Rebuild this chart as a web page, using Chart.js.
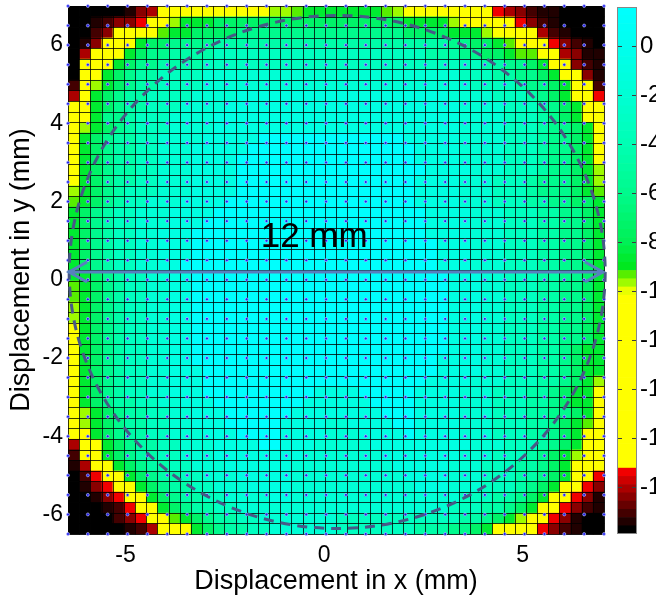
<!DOCTYPE html>
<html>
<head>
<meta charset="utf-8">
<title>Displacement map</title>
<script src="https://cdn.jsdelivr.net/npm/chart.js@4.4.0/dist/chart.umd.min.js"></script>
<style>
  html, body { margin: 0; padding: 0; background: #fff; overflow: hidden; }
  #wrap { position: relative; width: 656px; height: 595px; }
  #wrap canvas { position: absolute; left: 0; top: 0; }
</style>
</head>
<body>
<div id="wrap">
  <canvas id="mapChart" width="656" height="595"></canvas>
  <canvas id="colorbarChart" width="656" height="595"></canvas>
</div>
<script>
/************************************************************************************************
 *                                        CHART DATA
 * **********************************************************************************************/
const xLimits = [-6.45, 7.05];
const yLimits = [-6.5, 7.0];
const xTickValues = [-5, 0, 5];
const yTickValues = [-6, -4, -2, 0, 2, 4, 6];
const colorLimits = [-19.9, 1.6];
const colorTickValues = [0, -2, -4, -6, -8, -10, -12, -14, -16, -18];

// measurement points, 0.5 mm pitch
const pointX = [-6.45, -5.95, -5.45, -4.95, -4.45, -3.95, -3.45, -2.95, -2.45, -1.95, -1.45, -0.95, -0.45, 0.05,
  0.55, 1.05, 1.55, 2.05, 2.55, 3.05, 3.55, 4.05, 4.55, 5.05, 5.55, 6.05, 6.55, 7.05];
const pointY = [-6.5, -6.0, -5.5, -5.0, -4.5, -4.0, -3.5, -3.0, -2.5, -2.0, -1.5, -1.0, -0.5, 0.0,
  0.5, 1.0, 1.5, 2.0, 2.5, 3.0, 3.5, 4.0, 4.5, 5.0, 5.5, 6.0, 6.5, 7.0];

// value of each level code used in the map rows
const levelValue = {
  A: 1.4, B: -0.8, C: -2.0, D: -3.2, E: -4.6, F: -6.0, G: -7.3, H: -8.6, I: -9.3, J: -9.7,
  Y: -13.0, R: -17.4, S: -17.9, T: -18.5, U: -19.0, V: -19.4, K: -19.85
};

// interpolated map, 48 columns x 50 rows, top row first
const mapRows = [
  "KKKKKVTSYYYYYYYYYYJJIHHH" + "HHHHIJYYYYYYYYRSTUVVKKKK",
  "KKVUTTRYYJHHHGGGGGGGGGGG" + "GGGGGGHHHHJYYYYYRTUVKKKK",
  "KKUTYYYYIHHGGGGFFFFFFFFF" + "FFFFFFGGGGHHHJYYYYSUVKKK",
  "KVTYYYHGGFFFFEEEEEEEEEEE" + "EEEEEEEEEEFFGGHIYYYRTUVK",
  "KSYYYHGFFEEEEDDDDDDDDDDD" + "DDDDDDDDEEEFFGGHIIYYSTVV",
  "KYYYHGFFEEEEDDDDDDDDDDDD" + "DDDDDDDDDDDDDEEFFGHYYTUV",
  "KYYHGFEEDDDDCCCCCCCCCCCC" + "CCCCCCCCCCCDDDEEFFGHYYTV",
  "UYJHGFEEDDDDCCCCCCCCCCCC" + "CCCCCCCCCCCCDDDDEFFGHYYU",
  "SYHGFEEDDDDCCCCBBBBBBBBB" + "BBBBBBBBBBCCCCDDDEFGHYYR",
  "YYHGFEEDDDCCCCBBBBBBBBBB" + "BBBBBBBBBBBCCCCDDDEFGHYY",
  "YYHFFEDDDCCCCBBBBBBBBBBB" + "BBBBBBBBBBBCCCCDDDEFGHYY",
  "YJHGFEDDDCCCCBBBBBBBBBBB" + "BBBBBBBBBBBCCCCDDDEFFGHY",
  "YHGFEEDDCCCCBBBBBAAAAAAA" + "AAAAAABBBBBCCCCDDDEFFGHY",
  "YHGFEEDDCCCBBBBBAAAAAAAA" + "AAAAAAABBBBCCCCDDDEFFGHY",
  "YHGFEEDDCCCBBBBAAAAAAAAA" + "AAAAAAABBBBCCCCDDDEFFGHY",
  "YHGFEEDDCCCBBBBAAAAAAAAA" + "AAAAAAAABBBBCCCDDDEFFGHJ",
  "YHGFEEDDCCCBBBBAAAAAAAAA" + "AAAAAAABBBBCCCDDDEFFFGHJ",
  "JHGFEDDDCCCBBBBAAAAAAAAA" + "AAAAAAABBBBCCCDDDEFFFGHI",
  "IHGFEDDCCCBBBBAAAAAAAAAA" + "AAAAAAABBBBCCCDDDEEFFGGH",
  "HGFEDDCCCBBBBAAAAAAAAAAA" + "AAAAAAAABBBBCCCDDDEEFFGH",
  "HGFEDDCCCBBBAAAAAAAAAAAA" + "AAAAAAAABBBBCCCDDDEEFFGH",
  "HGFEDDCCBBBAAAAAAAAAAAAA" + "AAAAAAAABBBBCCCDDDEEFFGH",
  "HGFEDDCCBBBAAAAAAAAAAAAA" + "AAAAAAAAABBBCCCDDDEEFFGH",
  "HGFEDDCCBBBAAAAAAAAAAAAA" + "AAAAAAAAABBBCCCDDDEEFFGH",
  "HGFEDDCCBBAAAAAAAAAAAAAA" + "AAAAAAAAABBBCCCDDDEEFFGH",
  "HHGFEDDCCBBAAAAAAAAAAAAA" + "AAAAAAAAAABBBCCDDDEEFFGH",
  "IHGFEDDCCBBAAAAAAAAAAAAA" + "AAAAAAAAAABBBCCDDDEEFFGH",
  "IHGFEDDCCBBAAAAAAAAAAAAA" + "AAAAAAAAAABBBCCDDDEEFFGH",
  "JHGFEDDCCBBAAAAAAAAAAAAA" + "AAAAAAAAAABBBCCDDDEEFFGH",
  "JHGFEDDCCBBAAAAAAAAAAAAA" + "AAAAAAAAAABBBCCDDDEEFFGH",
  "YHGFEDDCCBBAAAAAAAAAAAAA" + "AAAAAAAAAABBBCCDDDEEFFGH",
  "YHGFEDDCCBBAAAAAAAAAAAAA" + "AAAAAAAAAABBBCCDDDEEFFGH",
  "YHGFEDDCCBBAAAAAAAAAAAAA" + "AAAAAAAAAABBBCCDDDEEFGHH",
  "YHGFEDDCCBBAAAAAAAAAAAAA" + "AAAAAAAAABBBBCCDDDEEFGHH",
  "YHGFEDDCCBBBAAAAAAAAAAAA" + "AAAAAAAAABBBBCCDDDEEFGHH",
  "YHGFEDDCCBBBAAAAAAAAAAAA" + "AAAAAAAABBBBCCCDDDEEFGHJ",
  "YHGFEDDCCBBBAAAAAAAAAABB" + "BBAAAAABBBBCCCDDDEEFGHHY",
  "YHGFEEDDCCBBBAAAAAAAABBB" + "BBBAAAABBBBCCCDDDEEFGHHY",
  "YJHGFEEDDCCBBBAAAAAABBBB" + "BBBBAAABBBBCCCDDDEEFFGHY",
  "YJHGFEEDDCCBBBAAAAABBBBC" + "CBBBBAABBBBCCCDDDEEFGHIY",
  "YYHGFEEDDCCCBBBAAAABBBBC" + "CCBBBBABBBBCCCDDDEEFGHYY",
  "SYYHGFEEDDCCCBBBBAABBBCC" + "CCCBBBBBBBBBCCCDDDEFGHYY",
  "UYYHGFEEDDCCCBBBBBBBBCCC" + "CCCCBBBBBBBCCCDDDEFGHJYY",
  "VSYYHGFEEDDCCCBBBBBBCCCC" + "CCCCCBBBBBCCCDDDEEFGHYYY",
  "KURYYHGFEEDDCCCBBBBBCCCC" + "CCCCCCBBBBCCCDDDEEFGHYYR",
  "KVTRYYHGFEEDDCCCBBBBCCCC" + "CCCCCCCBBBCCCDDDEFGHYYRT",
  "KKVTRYYHGFEEDDCCCCBBCCCC" + "CCCCCCCCCCCDDDEEFGHYYRTV",
  "KKKVURYYHGFEEDDCCCCCCCCC" + "CCCCCCCCCCDDDEEFGHYYRTUV",
  "KKKKUTRYYIHGFEEDDCCCCCCC" + "DDDDDDDDDDDEEFGHJYYRTVKK",
  "KKKKKVUSYYYHGFEEDDCCCCCC" + "DDDDDDDEEEFFGHYYYYRTUVKK"
];

// overlay: nominal 12 mm circle, diameter arrow and its label
const circleCenter = [0.33, 0.2];
const circleRadius = [6.75, 6.56];
const arrowY = 0.2;
const arrowX = [-6.45, 7.05];
const arrowLabel = "12 mm";
const arrowLabelAt = [-0.25, 0.84];

/************************************************************************************************
 *                                        COLOUR MAP
 * **********************************************************************************************/
const FONT = "'Liberation Sans', Arial, Helvetica, sans-serif";
const COLOR_LEVELS = 64;
const colorStops = [
  [-19.7, 0, 0, 0],
  [-17.25, 255, 0, 0],
  [-17.2, 255, 255, 0],
  [-10.05, 255, 255, 0],
  [-9.9, 200, 255, 0],
  [-9.55, 140, 250, 0],
  [-9.2, 60, 232, 0],
  [-9.0, 0, 232, 30],
  [-8.0, 0, 240, 85],
  [-6.0, 0, 250, 140],
  [-4.0, 0, 255, 180],
  [-2.0, 0, 255, 212],
  [0.0, 0, 255, 238],
  [1.6, 0, 255, 255]
];

function colorAt(v) {
  if (v <= colorStops[0][0]) return colorStops[0].slice(1);
  for (let i = 1; i < colorStops.length; i++) {
    const a = colorStops[i - 1];
    const b = colorStops[i];
    if (v <= b[0]) {
      const t = (v - a[0]) / (b[0] - a[0]);
      return [1, 2, 3].map((k) => Math.round(a[k] + (b[k] - a[k]) * t));
    }
  }
  return colorStops[colorStops.length - 1].slice(1);
}

function rgb(c) {
  return "rgb(" + c[0] + "," + c[1] + "," + c[2] + ")";
}

// matlab style: colours come from a 64 step table
function levelColor(v) {
  const span = colorLimits[1] - colorLimits[0];
  let i = Math.floor(((v - colorLimits[0]) / span) * COLOR_LEVELS);
  i = Math.max(0, Math.min(COLOR_LEVELS - 1, i));
  return rgb(colorAt(colorLimits[0] + ((i + 0.5) * span) / COLOR_LEVELS));
}

/************************************************************************************************
 *                                        PLUGINS
 * **********************************************************************************************/
const heatmapLayer = {
  id: "heatmapLayer",
  beforeDatasetsDraw(chart) {
    const { ctx, scales: { x, y } } = chart;
    const nRows = mapRows.length;
    const nCols = mapRows[0].length;
    const dx = (xLimits[1] - xLimits[0]) / nCols;
    const dy = (yLimits[1] - yLimits[0]) / nRows;

    ctx.save();
    for (let r = 0; r < nRows; r++) {
      const top = y.getPixelForValue(yLimits[1] - r * dy);
      const bottom = y.getPixelForValue(yLimits[1] - (r + 1) * dy);
      for (let c = 0; c < nCols; c++) {
        const left = x.getPixelForValue(xLimits[0] + c * dx);
        const right = x.getPixelForValue(xLimits[0] + (c + 1) * dx);
        ctx.fillStyle = levelColor(levelValue[mapRows[r][c]]);
        ctx.fillRect(left, top, right - left + 0.6, bottom - top + 0.6);
      }
    }

    // cell edges
    const area = chart.chartArea;
    ctx.strokeStyle = "rgba(0,0,0,0.78)";
    ctx.lineWidth = 1;
    ctx.beginPath();
    for (let c = 0; c <= nCols; c++) {
      const px = Math.round(x.getPixelForValue(xLimits[0] + c * dx)) + 0.5;
      ctx.moveTo(px, area.top);
      ctx.lineTo(px, area.bottom);
    }
    for (let r = 0; r <= nRows; r++) {
      const py = Math.round(y.getPixelForValue(yLimits[1] - r * dy)) + 0.5;
      ctx.moveTo(area.left, py);
      ctx.lineTo(area.right, py);
    }
    ctx.stroke();
    ctx.restore();
  },
};

const overlayLayer = {
  id: "overlayLayer",
  afterDatasetsDraw(chart) {
    const { ctx, scales: { x, y } } = chart;
    ctx.save();

    // dashed circle
    const cx = x.getPixelForValue(circleCenter[0]);
    const cy = y.getPixelForValue(circleCenter[1]);
    const rx = x.getPixelForValue(circleCenter[0] + circleRadius[0]) - cx;
    const ry = cy - y.getPixelForValue(circleCenter[1] + circleRadius[1]);
    ctx.strokeStyle = "rgb(72,88,135)";
    ctx.lineWidth = 3;
    ctx.setLineDash([10, 7]);
    ctx.beginPath();
    ctx.ellipse(cx, cy, rx, ry, 0, 0, Math.PI * 2);
    ctx.stroke();

    // double headed arrow
    const ay = y.getPixelForValue(arrowY);
    const x0 = x.getPixelForValue(arrowX[0]);
    const x1 = x.getPixelForValue(arrowX[1]);
    ctx.setLineDash([]);
    ctx.strokeStyle = "rgb(88,128,190)";
    ctx.lineWidth = 3;
    ctx.beginPath();
    ctx.moveTo(x0, ay);
    ctx.lineTo(x1, ay);
    ctx.moveTo(x0 + 19, ay - 10);
    ctx.lineTo(x0 + 1, ay);
    ctx.lineTo(x0 + 19, ay + 10);
    ctx.moveTo(x1 - 19, ay - 10);
    ctx.lineTo(x1 - 1, ay);
    ctx.lineTo(x1 - 19, ay + 10);
    ctx.stroke();

    // label
    ctx.fillStyle = "#000";
    ctx.font = "35px " + FONT;
    ctx.textAlign = "center";
    ctx.textBaseline = "alphabetic";
    ctx.fillText(arrowLabel, x.getPixelForValue(arrowLabelAt[0]), y.getPixelForValue(arrowLabelAt[1]));
    ctx.restore();
  },
};

const colorbarFrame = {
  id: "colorbarFrame",
  afterDraw(chart) {
    const { ctx, chartArea: a, scales: { y } } = chart;
    ctx.save();
    ctx.strokeStyle = "rgb(60,60,60)";
    ctx.lineWidth = 1;
    ctx.beginPath();
    colorTickValues.forEach((v) => {
      const py = Math.round(y.getPixelForValue(v)) + 0.5;
      ctx.moveTo(a.left, py);
      ctx.lineTo(a.left + 5, py);
      ctx.moveTo(a.right - 5, py);
      ctx.lineTo(a.right, py);
    });
    ctx.stroke();
    ctx.strokeStyle = "rgb(135,135,135)";
    ctx.strokeRect(a.left + 0.5, a.top + 0.5, a.right - a.left - 1, a.bottom - a.top - 1);
    ctx.restore();
  },
};

/************************************************************************************************
 *                                        MAP CHART
 * **********************************************************************************************/
function tickFont(size) {
  return { family: FONT, size: size };
}

function getPointData() {
  const pts = [];
  pointY.forEach((py) => pointX.forEach((px) => pts.push({ x: px, y: py })));
  return pts;
}

const mapConfig = {
  type: "scatter",
  data: {
    datasets: [
      {
        data: getPointData(),
        pointRadius: 1.5,
        pointBackgroundColor: "rgb(35,35,240)",
        pointBorderColor: "rgba(195,195,255,0.9)",
        pointBorderWidth: 0.7,
        clip: false,
      },
    ],
  },
  options: {
    responsive: false,
    animation: false,
    events: [],
    layout: { padding: { top: 6, right: 52, left: 0, bottom: 0 } },
    plugins: { legend: { display: false }, tooltip: { enabled: false } },
    scales: {
      x: {
        type: "linear",
        min: xLimits[0],
        max: xLimits[1],
        grid: { display: false, drawTicks: false },
        border: { display: false },
        ticks: { font: tickFont(23), color: "#000", padding: 8, autoSkip: false, maxRotation: 0 },
        afterBuildTicks: (s) => { s.ticks = xTickValues.map((v) => ({ value: v })); },
        afterFit: (s) => { s.height = 61; s.paddingLeft = 0; s.paddingRight = 0; },
        title: {
          display: true,
          text: "Displacement in x (mm)",
          color: "#000",
          font: { family: FONT, size: 27, lineHeight: 1 },
          padding: { top: 0, bottom: 0 },
        },
      },
      y: {
        type: "linear",
        min: yLimits[0],
        max: yLimits[1],
        grid: { display: false, drawTicks: false },
        border: { display: false },
        ticks: { font: tickFont(23), color: "#000", padding: 5, autoSkip: false },
        afterBuildTicks: (s) => { s.ticks = yTickValues.map((v) => ({ value: v })); },
        afterFit: (s) => { s.width = 68; s.paddingTop = 0; s.paddingBottom = 0; },
        title: {
          display: true,
          text: "Displacement in y (mm)",
          color: "#000",
          font: { family: FONT, size: 27, lineHeight: 1 },
          padding: { top: 8, bottom: 0 },
        },
      },
    },
  },
  plugins: [heatmapLayer, overlayLayer],
};

/************************************************************************************************
 *                                        COLOUR BAR
 * **********************************************************************************************/
function getColorbarDatasets() {
  const span = colorLimits[1] - colorLimits[0];
  const sets = [];
  for (let i = 0; i < COLOR_LEVELS; i++) {
    const lo = colorLimits[0] + (i * span) / COLOR_LEVELS;
    const hi = colorLimits[0] + ((i + 1) * span) / COLOR_LEVELS;
    sets.push({
      data: [[lo, hi]],
      backgroundColor: rgb(colorAt((lo + hi) / 2)),
      borderWidth: 0,
      grouped: false,
      barPercentage: 1,
      categoryPercentage: 1,
    });
  }
  return sets;
}

const colorbarConfig = {
  type: "bar",
  data: { labels: [""], datasets: getColorbarDatasets() },
  options: {
    responsive: false,
    animation: false,
    events: [],
    layout: { padding: { top: 7, right: 0, left: 617, bottom: 61 } },
    plugins: { legend: { display: false }, tooltip: { enabled: false } },
    scales: {
      x: { display: false },
      y: {
        position: "right",
        min: colorLimits[0],
        max: colorLimits[1],
        grid: { display: false, drawTicks: false },
        border: { display: false },
        ticks: { font: tickFont(24), color: "#000", padding: 3, autoSkip: false },
        afterBuildTicks: (s) => { s.ticks = colorTickValues.map((v) => ({ value: v })); },
        afterFit: (s) => { s.width = 19; s.paddingTop = 0; s.paddingBottom = 0; },
      },
    },
  },
  plugins: [colorbarFrame],
};

/************************************************************************************************
 *                                        RENDER
 * **********************************************************************************************/
new Chart(document.getElementById("mapChart"), mapConfig);
new Chart(document.getElementById("colorbarChart"), colorbarConfig);
</script>
</body>
</html>
